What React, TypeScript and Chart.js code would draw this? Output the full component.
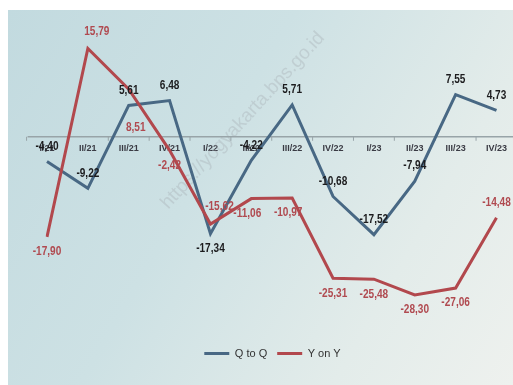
import React, { useEffect, useRef } from "react";
import { Chart, registerables } from "chart.js";

Chart.register(...registerables);

const categories = ["I/21", "II/21", "III/21", "IV/21", "I/22", "II/22", "III/22", "IV/22", "I/23", "II/23", "III/23", "IV/23"];
const qToQ = [-4.4, -9.22, 5.61, 6.48, -17.34, -4.22, 5.71, -10.68, -17.52, -7.94, 7.55, 4.73];
const yOnY = [-17.9, 15.79, 8.51, -2.42, -15.62, -11.06, -10.97, -25.31, -25.48, -28.3, -27.06, -14.48];
const seriesNames = ["Q to Q", "Y on Y"];
const watermarkText = "https://yogyakarta.bps.go.id";

// label placement codes (styling only)
const qToQLabelPlace = ["a", "a", "a", "a", "b", "a", "a", "a", "a", "a", "a", "a"];
const yOnYLabelPlace = ["b", "ar", "bf", "b", "ar", "bl", "bl", "b", "b", "b", "b", "a"];

const BLUE = "#486884";
const RED = "#b2484d";
const FONT = "'Liberation Sans', Arial, sans-serif";

export default function App() {
  const ref = useRef<HTMLCanvasElement>(null);

  useEffect(() => {
    if (!ref.current) return;
    const fmt = (v: number) => v.toFixed(2).replace(".", ",");
    const offsets: Record<string, [number, number]> = {
      a: [0, -15],
      b: [0, 15],
      ar: [9, -17],
      bf: [7, 38],
      bl: [-4, 15],
    };

    const decor = {
      id: "decor",
      beforeDatasetsDraw(chart: any) {
        const { ctx, scales } = chart;
        const x = scales.x;
        const y = scales.y;
        const y0 = y.getPixelForValue(0);
        // watermark
        ctx.save();
        ctx.translate(chart.width * 0.465, chart.height * 0.295);
        ctx.rotate(-47.5 * Math.PI / 180);
        ctx.font = `19px ${FONT}`;
        ctx.fillStyle = "rgba(160,168,172,0.33)";
        ctx.textAlign = "center";
        ctx.textBaseline = "middle";
        ctx.fillText(watermarkText, 0, 0);
        ctx.restore();
        // axis line with offset tick marks
        const step = x.getPixelForValue(1) - x.getPixelForValue(0);
        const start = x.getPixelForValue(0) - step / 2 + 1;
        ctx.save();
        ctx.strokeStyle = "#98a4a8";
        ctx.lineWidth = 1.5;
        ctx.beginPath();
        ctx.moveTo(start, y0);
        ctx.lineTo(chart.width, y0);
        ctx.stroke();
        ctx.lineWidth = 1;
        for (let i = 0; i <= categories.length; i++) {
          const px = x.getPixelForValue(0) + step * (i - 0.5);
          ctx.beginPath();
          ctx.moveTo(px, y0);
          ctx.lineTo(px, y0 + 4);
          ctx.stroke();
        }
        ctx.restore();
      },
      afterDatasetsDraw(chart: any) {
        const { ctx } = chart;
        const drawSet = (dsIndex: number, values: number[], places: string[], color: string) => {
          const meta = chart.getDatasetMeta(dsIndex);
          meta.data.forEach((pt: any, i: number) => {
            const [dx, dy] = offsets[places[i]];
            ctx.save();
            ctx.font = `bold 12px ${FONT}`;
            ctx.textAlign = "center";
            ctx.textBaseline = "middle";
            ctx.fillStyle = color;
            ctx.translate(pt.x + dx, pt.y + dy);
            ctx.scale(0.84, 1);
            ctx.fillText(fmt(values[i]), 0, 0);
            ctx.restore();
          });
        };
        drawSet(1, yOnY, yOnYLabelPlace, "#b04a50");
        drawSet(0, qToQ, qToQLabelPlace, "#1c1c1e");
      },
    };

    const chart = new Chart(ref.current, {
      type: "line",
      data: {
        labels: categories,
        datasets: [
          {
            label: seriesNames[0],
            data: qToQ,
            borderColor: BLUE,
            backgroundColor: BLUE,
            borderWidth: 3,
            pointRadius: 0,
            tension: 0,
            order: 2,
          },
          {
            label: seriesNames[1],
            data: yOnY,
            borderColor: RED,
            backgroundColor: RED,
            borderWidth: 3,
            pointRadius: 0,
            tension: 0,
            order: 1,
          },
        ],
      },
      options: {
        animation: false,
        responsive: true,
        maintainAspectRatio: false,
        layout: { padding: { left: 39, right: 15, top: 15, bottom: 16 } },
        scales: {
          x: {
            type: "category",
            position: { y: 0 } as any,
            offset: false,
            grid: { display: false, drawTicks: false },
            border: { display: false },
            ticks: {
              autoSkip: false,
              maxRotation: 0,
              padding: 6,
              color: "#3a3b44",
              font: { size: 9, weight: "bold", family: FONT },
            },
          },
          y: {
            display: false,
            min: -36,
            max: 20,
          },
        },
        plugins: {
          tooltip: { enabled: false },
          legend: {
            position: "bottom",
            labels: {
              boxWidth: 25,
              boxHeight: 3,
              padding: 10,
              color: "#333",
              font: { size: 11, family: FONT },
              generateLabels: () => [
                { text: seriesNames[0], fillStyle: BLUE, strokeStyle: BLUE, lineWidth: 0, datasetIndex: 0, hidden: false, fontColor: "#333" },
                { text: seriesNames[1], fillStyle: RED, strokeStyle: RED, lineWidth: 0, datasetIndex: 1, hidden: false, fontColor: "#333" },
              ] as any,
            },
          },
        },
      },
      plugins: [decor],
    });
    return () => chart.destroy();
  }, []);

  return (
    <div
      style={{
        position: "fixed",
        left: 8,
        top: 10,
        width: 505,
        height: 375,
        background: "linear-gradient(120deg, #c2dadf 0%, #cde1e4 40%, #e3ecea 75%, #eef1ee 100%)",
      }}
    >
      <canvas ref={ref} />
    </div>
  );
}
